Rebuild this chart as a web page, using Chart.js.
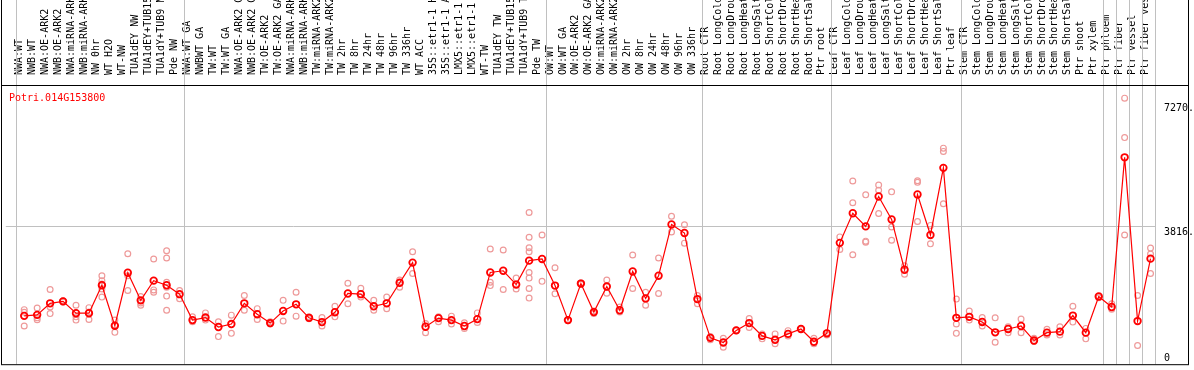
<!DOCTYPE html>
<html>
<head>
<meta charset="utf-8">
<script src="https://cdn.jsdelivr.net/npm/chart.js@4.4.0/dist/chart.umd.min.js"></script>
<style>
  html, body { margin: 0; padding: 0; background: #fff; }
</style>
</head>
<body>
<canvas id="expr-chart" width="1194" height="370"></canvas>
<script>
// sample names (x axis, top)
var samples = [
  "NWA:WT", "NWB:WT", "NWA:OE-ARK2", "NWB:OE-ARK2", "NWA:miRNA-ARK2", "NWB:miRNA-ARK2",
  "NW 0hr", "WT H2O", "WT-NW", "TUA1dEY NW", "TUA1dEY+TUB15 NW", "TUA1dY+TUB9 NW", "Pde NW",
  "NWA:WT GA", "NWBWT GA", "TW:WT", "TW:WT GA", "NWA:OE-ARK2 GA", "NWB:OE-ARK2 GA",
  "TW:OE-ARK2", "TW:OE-ARK2 GA", "NWA:miRNA-ARK2 GA", "NWB:miRNA-ARK2 GA", "TW:miRNA-ARK2",
  "TW:miRNA-ARK2 GA", "TW 2hr", "TW 8hr", "TW 24hr", "TW 48hr", "TW 96hr", "TW 336hr", "WT ACC",
  "35S::etr1-1 H2O", "35S::etr1-1 ACC", "LMX5::etr1-1 H2O", "LMX5::etr1-1 ACC", "WT-TW",
  "TUA1dEY TW", "TUA1dEY+TUB15 TW", "TUA1dY+TUB9 TW", "Pde TW",
  "OW:WT", "OW:WT GA", "OW:OE-ARK2", "OW:OE-ARK2 GA", "OW:miRNA-ARK2", "OW:miRNA-ARK2 GA",
  "OW 2hr", "OW 8hr", "OW 24hr", "OW 48hr", "OW 96hr", "OW 336hr",
  "Root CTR", "Root LongCold", "Root LongDrought", "Root LongHeat", "Root LongSalt",
  "Root ShortCold", "Root ShortDrought", "Root ShortHeat", "Root ShortSalt", "Ptr root",
  "Leaf CTR", "Leaf LongCold", "Leaf LongDrought", "Leaf LongHeat", "Leaf LongSalt",
  "Leaf ShortCold", "Leaf ShortDrought", "Leaf ShortHeat", "Leaf ShortSalt", "Ptr leaf",
  "Stem CTR", "Stem LongCold", "Stem LongDrought", "Stem LongHeat", "Stem LongSalt",
  "Stem ShortCold", "Stem ShortDrought", "Stem ShortHeat", "Stem ShortSalt", "Ptr shoot", "Ptr xylem",
  "Ptr phloem", "Ptr fiber", "Ptr vessel", "Ptr fiber vessel"
];

// mean expression per sample (red line)
var meanValues = [
  1315, 1343, 1666, 1721, 1390, 1390, 2172, 1039, 2523, 1749, 2302, 2172, 1923,
  1196, 1268, 1003, 1086, 1666, 1362, 1113, 1453, 1638, 1260, 1141, 1417, 1942, 1923,
  1583, 1666, 2241, 2807, 1011, 1252, 1196, 1031, 1224, 2531, 2578, 2191, 2862, 2909,
  2163, 1196, 2219, 1420, 2136, 1473, 2559, 1804, 2440, 3876, 3636, 1785,
  699, 569, 909, 1113, 754, 644, 810, 948, 589, 826,
  3360, 4189, 3821, 4658, 4015, 2606, 4714, 3581, 5460, 1260,
  1288, 1144, 854, 948, 1031, 624, 845, 873, 1323, 845, 1859,
  1564, 5755, 1169, 2918
];

// single replicates per sample (pink circles)
var replicates = [
  [1489, 1417, 1031], [1536, 1260, 1205], [2053, 1564, 1379], [1738, 1702],
  [1611, 1288, 1196], [1545, 1426, 1213], [2440, 2302, 2208, 2069, 1840], [1196, 1058, 854],
  [3056, 2440, 2025], [1859, 1674, 1611], [2909, 2042, 1978], [3139, 2937, 2255, 2116, 1868, 1473],
  [2025, 1793],
  [1288, 1149], [1398, 1196], [1149, 735], [1335, 826], [1887, 1473], [1517, 1213],
  [1149, 1086], [1749, 1169], [1978, 1307], [1288, 1232], [1268, 1031], [1583, 1288],
  [2227, 1655], [2089, 1840], [1749, 1473], [1840, 1517], [2318, 2116], [3111, 2503],
  [1102, 845], [1288, 1149], [1307, 1086], [1122, 964], [1398, 1130], [3186, 2255, 2163],
  [3158, 2053], [2373, 2069], [4208, 3517, 3222, 3111, 2531, 2373, 2081, 1813], [3581, 2282],
  [2661, 1931], [1180, 1215], [2200, 2240], [1453, 1379], [2318, 1951], [1564, 1426],
  [3020, 2081], [1978, 1611], [2937, 1942], [4106, 3664], [3865, 3352], [1887, 1655],
  [735, 644], [688, 439], [920, 900], [1241, 992], [810, 671], [810, 533], [901, 754],
  [964, 932], [688, 533], [845, 782],
  [3526, 3175], [5092, 4484, 3028], [4705, 3407, 3379], [4982, 4832, 4180], [4788, 3802, 3434],
  [2716, 2484], [5101, 5054, 3959], [3849, 3332], [6012, 5921, 4457], [1785, 1086, 826],
  [1453, 1196], [1268, 1031], [1260, 577], [1011, 845], [1224, 845], [688, 597], [937, 782],
  [1011, 782], [1583, 1141], [964, 671], [1859, 1821],
  [1655, 1500], [7413, 6308, 3581], [1887, 486], [3213, 3048, 2503]
];

// first sample index of each tissue group (gray separators)
var groupStarts = [0, 13, 41, 53, 63, 73, 84, 85, 86, 87, 88];

var yTicks = [0, 3816, 7270];
var yTickLabels = ["0", "3816.", "7270."];
var geneName = "Potri.014G153800";

var monoFont = '"DejaVu Sans Mono", monospace';
Chart.defaults.font.family = monoFont;
Chart.defaults.font.size = 10;
Chart.defaults.color = "#000";

var meanPoints = meanValues.map(function (v, i) { return { x: i, y: v }; });
var repPoints = [];
replicates.forEach(function (list, i) {
  list.forEach(function (v) { repPoints.push({ x: i, y: v }); });
});

// separators, frame, gene name and y labels
var framePlugin = {
  id: "frame",
  beforeDatasetsDraw: function (chart) {
    var ctx = chart.ctx, area = chart.chartArea, xs = chart.scales.x;
    ctx.save();
    ctx.strokeStyle = "#c0c0c0";
    ctx.lineWidth = 1;
    groupStarts.forEach(function (k) {
      var px = Math.floor(xs.getPixelForValue(k - 0.62)) + 0.5;
      ctx.beginPath();
      ctx.moveTo(px, 0);
      ctx.lineTo(px, area.bottom);
      ctx.stroke();
    });
    ctx.restore();
  },
  afterDraw: function (chart) {
    var ctx = chart.ctx, area = chart.chartArea, ys = chart.scales.y;
    var right = 1188.5, bottom = area.bottom + 0.5, top = area.top + 0.5;
    ctx.save();
    ctx.strokeStyle = "#000";
    ctx.lineWidth = 1;
    ctx.beginPath();
    ctx.moveTo(1.5, 0); ctx.lineTo(1.5, bottom);
    ctx.moveTo(right, 0); ctx.lineTo(right, bottom);
    ctx.moveTo(1, top); ctx.lineTo(right + 0.5, top);
    ctx.moveTo(1, bottom); ctx.lineTo(right + 0.5, bottom);
    ctx.stroke();

    ctx.font = "10px " + monoFont;
    ctx.textBaseline = "alphabetic";
    ctx.textAlign = "left";
    ctx.fillStyle = "#ff0000";
    ctx.fillText(geneName, 9, 101);

    ctx.fillStyle = "#000";
    yTicks.forEach(function (v, i) {
      var py = ys.getPixelForValue(v);
      ctx.fillText(yTickLabels[i], 1164, Math.min(py + 8, area.bottom - 3));
    });
    ctx.restore();
  }
};

var chart = new Chart(document.getElementById("expr-chart"), {
  type: "line",
  data: {
    datasets: [
      {
        label: "mean",
        data: meanPoints,
        borderColor: "#ff0000",
        borderWidth: 1.2,
        pointRadius: 3.3,
        pointBorderWidth: 1.8,
        pointBorderColor: "#ff0000",
        pointBackgroundColor: "rgba(0,0,0,0)",
        tension: 0
      },
      {
        label: "replicates",
        data: repPoints,
        showLine: false,
        pointRadius: 2.9,
        pointBorderWidth: 1.2,
        pointBorderColor: "#ee9a9a",
        pointBackgroundColor: "rgba(0,0,0,0)"
      }
    ]
  },
  options: {
    responsive: false,
    animation: false,
    layout: { padding: { left: 1, right: 5, top: 0, bottom: 2 } },
    plugins: {
      legend: { display: false },
      tooltip: { enabled: false }
    },
    scales: {
      x: {
        type: "linear",
        position: "top",
        min: -1.423,
        max: 87.423,
        grid: { display: false },
        border: { display: false },
        afterBuildTicks: function (scale) {
          scale.ticks = samples.map(function (s, i) { return { value: i }; });
        },
        afterFit: function (scale) { scale.height = 85; },
        ticks: {
          autoSkip: false,
          minRotation: 90,
          maxRotation: 90,
          padding: 2,
          labelOffset: 7,
          color: "#000",
          font: { size: 10 },
          callback: function (v) { return samples[v]; }
        }
      },
      y: {
        type: "linear",
        position: "right",
        min: -38.7,
        max: 7781,
        afterBuildTicks: function (scale) {
          scale.ticks = yTicks.map(function (v) { return { value: v }; });
        },
        afterFit: function (scale) { scale.width = 33; },
        border: { display: false },
        grid: {
          drawTicks: false,
          color: function (c) { return c.tick && c.tick.value === 3816 ? "#c0c0c0" : "rgba(0,0,0,0)"; }
        },
        ticks: { display: false }
      }
    }
  },
  plugins: [framePlugin]
});
</script>
</body>
</html>
